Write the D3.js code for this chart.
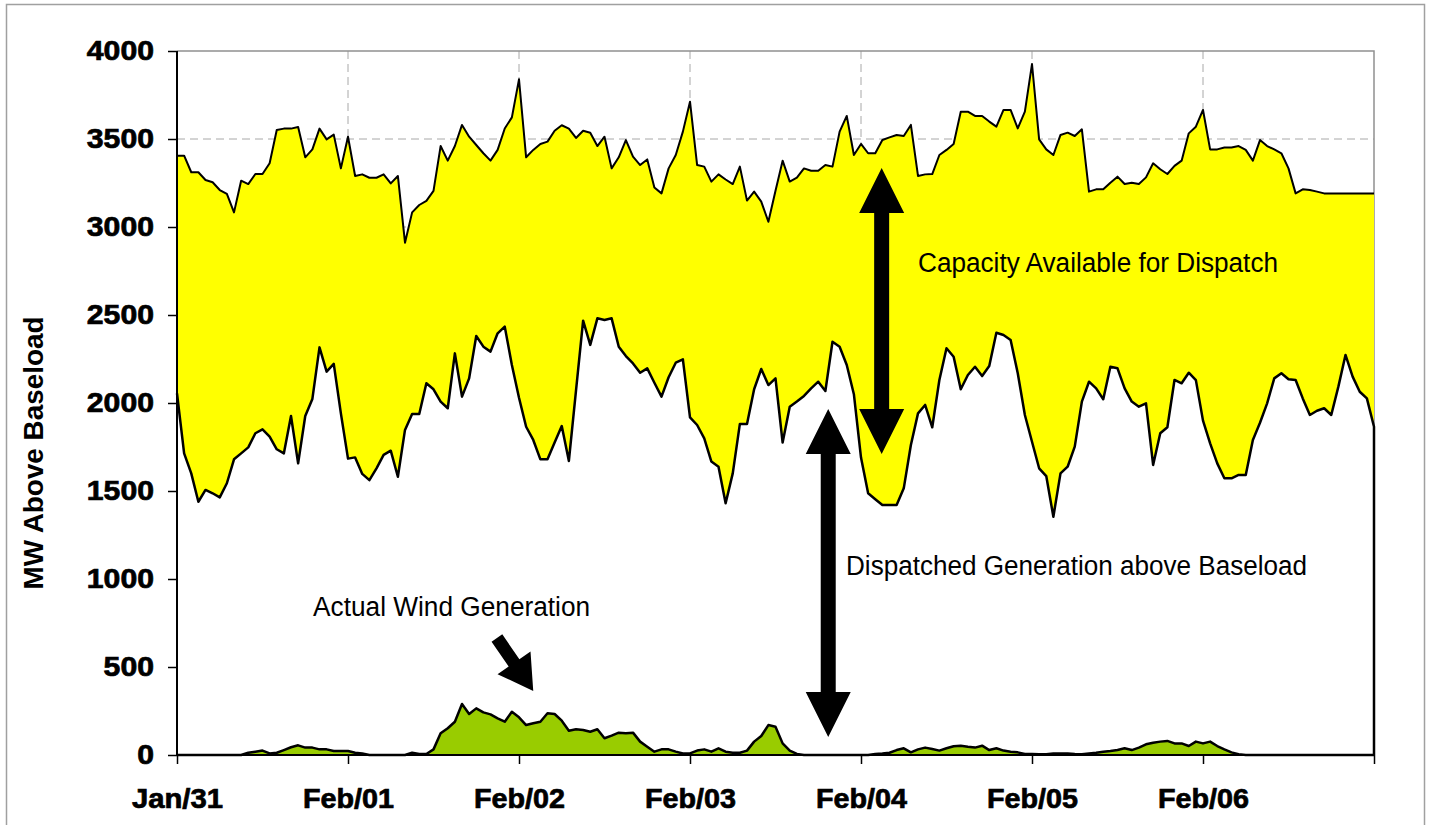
<!DOCTYPE html>
<html lang="en">
<head>
    <meta charset="UTF-8">
    <title>Capacity available for dispatch</title>
    <script src="https://cdn.jsdelivr.net/npm/d3@7"></script>
    <style>
        body { margin: 0; background: #fff; }
        text { font-family: "Liberation Sans", Arial, sans-serif; }
    </style>
</head>
<body>
<script type="text/javascript">
    // hourly values, Jan/31 00:00 .. Feb/07 00:00 (169 points)
    var dayLabels = ["Jan/31", "Feb/01", "Feb/02", "Feb/03", "Feb/04", "Feb/05", "Feb/06", ""];
    var yTicks = [0, 500, 1000, 1500, 2000, 2500, 3000, 3500, 4000];

    // top of the yellow band (dispatched + available capacity)
    var totalCapacity = [
        3405, 3405, 3311, 3311, 3267, 3254, 3210, 3188, 3083, 3263, 3244, 3301, 3301, 3362, 3551, 3559, 3559, 3568, 3396, 3441, 3559, 3498, 3525, 3333, 3513,
        3290, 3299, 3280, 3280, 3299, 3248, 3290, 2911, 3083, 3125, 3148, 3205, 3460, 3377, 3460, 3580, 3513, 3466, 3419, 3377, 3438, 3560, 3623, 3839,
        3396, 3438, 3472, 3485, 3547, 3578, 3559, 3506, 3547, 3536, 3460, 3513, 3333, 3396, 3494, 3400, 3352, 3384, 3225, 3191, 3333, 3409, 3542, 3712,
        3352, 3343, 3258, 3299, 3270, 3244, 3343, 3150, 3201, 3144, 3030, 3206, 3377, 3258, 3280, 3333, 3320, 3320, 3352, 3343, 3542, 3631, 3409, 3472,
        3419, 3419, 3494, 3509, 3523, 3517, 3580, 3290, 3299, 3301, 3409, 3438, 3472, 3655, 3655, 3631, 3631, 3599, 3570, 3665, 3665, 3560, 3655, 3926,
        3498, 3441, 3409, 3523, 3536, 3517, 3555, 3201, 3214, 3214, 3252, 3286, 3244, 3252, 3244, 3282, 3362, 3328, 3301, 3347, 3377, 3532, 3570, 3665,
        3441, 3441, 3452, 3452, 3460, 3438, 3377, 3494, 3460, 3441, 3419, 3333, 3191, 3214, 3210, 3201, 3191, 3191, 3191, 3191, 3191, 3191, 3191, 3191
    ];

    // dispatched generation above baseload
    var dispatched = [
        2055, 1714, 1600, 1439, 1506, 1487, 1464, 1544, 1680, 1714, 1748, 1828, 1850, 1809, 1737, 1714, 1926, 1657, 1926, 2023, 2316, 2178, 2222, 1941, 1684,
        1691, 1597, 1562, 1629, 1705, 1729, 1581, 1847, 1938, 1938, 2112, 2078, 2008, 1970, 2282, 2036, 2140, 2381, 2320, 2292, 2396, 2434, 2216, 2030,
        1865, 1790, 1680, 1680, 1775, 1869, 1671, 2070, 2468, 2330, 2481, 2472, 2481, 2320, 2267, 2225, 2172, 2197, 2115, 2036, 2146, 2229, 2248, 1918,
        1875, 1799, 1667, 1638, 1430, 1600, 1881, 1881, 2078, 2193, 2102, 2140, 1775, 1979, 2008, 2040, 2083, 2121, 2068, 2348, 2320, 2216, 2050, 1690,
        1487, 1453, 1420, 1420, 1420, 1515, 1761, 1941, 1989, 1862, 2131, 2311, 2263, 2078, 2159, 2206, 2153, 2210, 2399, 2386, 2358, 2169, 1932, 1780,
        1629, 1585, 1354, 1600, 1638, 1752, 2008, 2121, 2083, 2021, 2206, 2197, 2083, 2008, 1979, 1998, 1648, 1828, 1862, 2131, 2112, 2172, 2130, 1900,
        1771, 1657, 1572, 1572, 1591, 1591, 1790, 1888, 1998, 2140, 2169, 2135, 2131, 2026, 1932, 1956, 1970, 1932, 2093, 2273, 2150, 2064, 2026, 1865
    ];

    // actual wind generation
    var wind = [
        0, 0, 0, 0, 0, 0, 0, 0, 0, 0, 13, 19, 25, 9, 13, 28, 44, 55, 42, 42, 32, 32, 23, 23, 23,
        13, 9, 0, 0, 0, 0, 0, 0, 13, 6, 6, 32, 123, 152, 189, 290, 233, 265, 242, 231, 208, 189, 246, 214,
        170, 180, 189, 237, 233, 195, 138, 146, 142, 132, 146, 95, 110, 127, 123, 127, 76, 47, 19, 32, 32, 19, 9, 9,
        25, 32, 19, 38, 19, 13, 13, 25, 76, 108, 170, 161, 66, 25, 6, 0, 0, 0, 0, 0, 0, 0, 0, 0,
        0, 6, 9, 13, 28, 38, 15, 32, 42, 34, 25, 38, 50, 53, 47, 42, 53, 28, 38, 25, 19, 15, 6, 6,
        4, 4, 9, 9, 9, 6, 4, 9, 13, 19, 23, 28, 38, 28, 42, 61, 70, 76, 80, 66, 66, 51, 76, 66,
        76, 51, 32, 15, 5, 0, 0, 0, 0, 0, 0, 0, 0, 0, 0, 0, 0, 0, 0, 0, 0, 0, 0, 0
    ];

    var width = 1430;
    var height = 825;
    var margin = {top: 51, right: 56, bottom: 70, left: 177};
    var narrow = '"Liberation Sans Narrow", "Arial Narrow", "Liberation Sans", sans-serif';

    var svg = d3.select('body').append('svg')
            .attr('width', width)
            .attr('height', height);

    // outer frame
    svg.append('rect')
            .attr('x', 6.5).attr('y', 4.5)
            .attr('width', 1418).attr('height', 840)
            .attr('fill', 'none')
            .attr('stroke', '#a0a0a0')
            .attr('stroke-width', 1.5);

    var x = d3.scaleLinear()
            .domain([0, 168])
            .range([margin.left, width - margin.right]);
    var y = d3.scaleLinear()
            .domain([0, 4000])
            .range([height - margin.bottom, margin.top]);

    var hours = d3.range(totalCapacity.length);

    // dashed grid
    svg.append('g').selectAll('line')
            .data(yTicks.slice(1, -1))
            .enter().append('line')
            .attr('x1', x(0)).attr('x2', x(168))
            .attr('y1', function (d) { return y(d); })
            .attr('y2', function (d) { return y(d); })
            .attr('stroke', '#a8a8a8')
            .attr('stroke-dasharray', '8,5');
    svg.append('g').selectAll('line')
            .data(d3.range(24, 168, 24))
            .enter().append('line')
            .attr('x1', function (d) { return x(d); })
            .attr('x2', function (d) { return x(d); })
            .attr('y1', y(4000)).attr('y2', y(0))
            .attr('stroke', '#a8a8a8')
            .attr('stroke-dasharray', '8,5');

    // plot border, top and right
    svg.append('path')
            .attr('d', 'M' + x(0) + ',' + y(4000) + 'H' + x(168) + 'V' + y(0))
            .attr('fill', 'none')
            .attr('stroke', '#909090')
            .attr('stroke-width', 1.5);

    // yellow band: available capacity
    var band = d3.area()
            .x(function (i) { return x(i); })
            .y0(function (i) { return y(dispatched[i]); })
            .y1(function (i) { return y(totalCapacity[i]); });
    svg.append('path')
            .attr('d', band(hours))
            .attr('fill', '#ffff00');

    // white area: dispatched generation
    var low = d3.area()
            .x(function (i) { return x(i); })
            .y0(y(0))
            .y1(function (i) { return y(dispatched[i]); });
    svg.append('path')
            .attr('d', low(hours))
            .attr('fill', '#ffffff');

    var topLine = d3.line()
            .x(function (i) { return x(i); })
            .y(function (i) { return y(totalCapacity[i]); });
    svg.append('path')
            .attr('d', topLine(hours))
            .attr('fill', 'none')
            .attr('stroke', '#000')
            .attr('stroke-width', 2)
            .attr('stroke-linejoin', 'round');

    var lowLine = d3.line()
            .x(function (d) { return x(d[0]); })
            .y(function (d) { return y(d[1]); });
    var lowPts = hours.map(function (i) { return [i, dispatched[i]]; });
    lowPts.push([168, 0]);
    svg.append('path')
            .attr('d', lowLine(lowPts))
            .attr('fill', 'none')
            .attr('stroke', '#000')
            .attr('stroke-width', 2.5)
            .attr('stroke-linejoin', 'round');

    // wind
    var windArea = d3.area()
            .x(function (i) { return x(i); })
            .y0(y(0))
            .y1(function (i) { return y(wind[i]); });
    svg.append('path')
            .attr('d', windArea(hours))
            .attr('fill', '#99cc00');
    var windLine = d3.line()
            .x(function (i) { return x(i); })
            .y(function (i) { return y(wind[i]); });
    svg.append('path')
            .attr('d', windLine(hours))
            .attr('fill', 'none')
            .attr('stroke', '#000')
            .attr('stroke-width', 2.5)
            .attr('stroke-linejoin', 'round');

    // axes
    var yAxis = d3.axisLeft(y)
            .tickValues(yTicks)
            .tickSize(9)
            .tickPadding(14)
            .tickFormat(d3.format('d'));
    var gy = svg.append('g')
            .attr('transform', 'translate(' + x(0) + ',0)')
            .call(yAxis);

    var xAxis = d3.axisBottom(x)
            .tickValues(d3.range(0, 169, 24))
            .tickSize(9)
            .tickPadding(28)
            .tickFormat(function (d, i) { return dayLabels[i]; });
    var gx = svg.append('g')
            .attr('transform', 'translate(0,' + y(0) + ')')
            .call(xAxis);

    [gx, gy].forEach(function (g) {
        g.select('.domain').attr('stroke', '#000').attr('stroke-width', 2);
        g.selectAll('.tick line').attr('stroke', '#000').attr('stroke-width', 1.5);
        g.selectAll('.tick text')
                .attr('fill', '#000')
                .attr('stroke', '#000')
                .attr('stroke-width', 0.7)
                .attr('lengthAdjust', 'spacingAndGlyphs')
                .style('font-family', '"Liberation Sans", Arial, sans-serif')
                .style('font-weight', 'bold')
                .style('font-size', '27px');
    });
    gx.selectAll('.tick text')
            .attr('dy', '0.6em')
            .attr('textLength', function (d, i) { return dayLabels[i] ? 91 : null; });
    gy.selectAll('.tick text')
            .attr('textLength', function (d) { return String(d).length * 16.8; });
    gy.select('.domain').attr('d', 'M0,' + y(0) + 'V' + y(4000));
    gx.select('.domain').attr('d', 'M' + x(0) + ',0H' + x(168));

    svg.append('text')
            .attr('transform', 'translate(43,' + ((y(0) + y(4000)) / 2 + 50) + ') rotate(-90)')
            .attr('text-anchor', 'middle')
            .attr('font-weight', 'bold')
            .attr('font-size', 27)
            .attr('textLength', 273)
            .attr('lengthAdjust', 'spacingAndGlyphs')
            .style('font-family', narrow)
            .text('MW Above Baseload');

    // annotation arrows (positions in data units)
    function blockArrow(x1, y1, x2, y2, shaft, headW, headL, both) {
        var dx = x2 - x1, dy = y2 - y1;
        var len = Math.sqrt(dx * dx + dy * dy);
        var ux = dx / len, uy = dy / len, px = -uy, py = ux;
        function pt(a, b) { return [x1 + ux * a + px * b, y1 + uy * a + py * b]; }
        var s = shaft / 2, h = headW / 2;
        var pts = [];
        if (both) {
            pts.push(pt(0, 0), pt(headL, h), pt(headL, s));
        } else {
            pts.push(pt(0, s));
        }
        pts.push(pt(len - headL, s), pt(len - headL, h), pt(len, 0),
                pt(len - headL, -h), pt(len - headL, -s));
        if (both) {
            pts.push(pt(headL, -s), pt(headL, -h));
        } else {
            pts.push(pt(0, -s));
        }
        return 'M' + pts.map(function (p) { return p.join(','); }).join('L') + 'Z';
    }

    svg.append('path')
            .attr('d', blockArrow(x(98.9), y(3335), x(98.9), y(1710), 15, 45, 45, true))
            .attr('fill', '#000');
    svg.append('path')
            .attr('d', blockArrow(x(91.4), y(1966), x(91.4), y(102), 15, 45, 45, true))
            .attr('fill', '#000');
    svg.append('path')
            .attr('d', blockArrow(x(44.9), y(665), x(50.0), y(364), 13, 40, 34, false))
            .attr('fill', '#000');

    function note(t, xv, yv, len) {
        svg.append('text')
                .attr('x', x(xv))
                .attr('y', y(yv))
                .attr('font-size', 27)
                .attr('textLength', len)
                .attr('lengthAdjust', 'spacingAndGlyphs')
                .attr('fill', '#000')
                .style('font-family', narrow)
                .text(t);
    }
    note('Capacity Available for Dispatch', 104.0, 2745, 360);
    note('Dispatched Generation above Baseload', 93.9, 1020, 461);
    note('Actual Wind Generation', 19.1, 787, 277);
</script>
</body>
</html>
